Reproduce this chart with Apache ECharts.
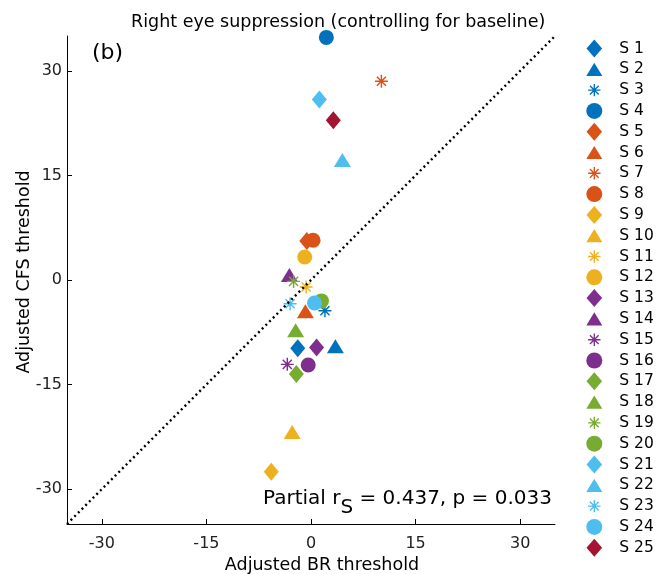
<!DOCTYPE html>
<html><head><meta charset="utf-8">
<script src="https://cdn.jsdelivr.net/npm/echarts@6/dist/echarts.min.js"></script>
<style>html,body{margin:0;padding:0;background:#fff}#c{width:667px;height:574px}</style>
</head><body><div id="c"></div>
<script>
// ---- data ----
const subjects = ['S 1','S 2','S 3','S 4','S 5','S 6','S 7','S 8','S 9','S 10','S 11','S 12','S 13','S 14','S 15','S 16','S 17','S 18','S 19','S 20','S 21','S 22','S 23','S 24','S 25'];
const brValues  = [-1.9, 3.5, 2.0, 2.2, -0.6, -0.8, 10.1, 0.3, -5.7, -2.7, -0.7, -0.9, 0.8, -3.1, -3.4, -0.4, -2.1, -2.2, -2.5, 1.5, 1.2, 4.5, -3.0, 0.5, 3.2];
const cfsValues = [-9.8, -9.5, -4.4, 34.8, 5.6, -4.5, 28.5, 5.7, -27.5, -21.8, -1.0, 3.3, -9.7, 0.7, -12.1, -12.2, -13.5, -7.2, -0.2, -3.0, 25.9, 17.2, -3.4, -3.3, 22.9];
const tickValues = [-30, -15, 0, 15, 30];
const identityLine = [[-35, -35], [35, 35]];
const axisRange = [-35, 35];
const statParts = ['Partial r', 'S', ' = 0.437, p = 0.033'];

// ---- styles ----
const palette = ['#0072BD', '#D95319', '#EDB120', '#7E2F8E', '#77AC30', '#4DBEEE', '#A2142F'];
const asteriskBody = 'M-1,-0.11 L1,-0.11 L1,0.11 L-1,0.11 Z ' +
  'M-0.11,-1 L0.11,-1 L0.11,1 L-0.11,1 Z ' +
  'M-0.778,-0.622 L-0.622,-0.778 L0.778,0.622 L0.622,0.778 Z ' +
  'M-0.622,0.778 L-0.778,0.622 L0.622,-0.778 L0.778,-0.622 Z';
const asterisk = 'path://' + asteriskBody;
// legend version: invisible zero-area specks pad the bounds so the icon is drawn smaller
const asteriskLegend = 'path://' + asteriskBody +
  ' M-0.001,-1.45 L0.001,-1.45 L0,-1.4495 Z M-0.001,1.45 L0.001,1.45 L0,1.4495 Z';
const shapes = ['diamond', 'triangle', asterisk, 'circle'];
const legendIcons = ['path://M0,-9 L7.8,0 L0,9 L-7.8,0 Z', 'path://M0,-7 L8.5,7 L-8.5,7 Z', asteriskLegend, 'circle'];
const sizes = [[15, 18], [17, 14], [13, 13], [15, 15]];
const FONT = 'DejaVu Sans';

const series = subjects.map((name, i) => ({
  type: 'scatter',
  name: name,
  data: [[brValues[i], cfsValues[i]]],
  symbol: shapes[i % 4],
  symbolSize: sizes[i % 4],
  itemStyle: { color: palette[Math.floor(i / 4)], opacity: 1 },
  emphasis: { disabled: true },
  z: 2
}));
series.push({
  type: 'line',
  name: 'identity',
  data: identityLine,
  symbol: 'none',
  lineStyle: { color: '#000', width: 2.4, type: [2, 3.2] },
  silent: true,
  z: 5
});

const axisCommon = {
  type: 'value', min: axisRange[0], max: axisRange[1],
  axisLine: { show: true, onZero: false, lineStyle: { color: '#000', width: 1 } },
  axisTick: { show: true, inside: true, length: 5, customValues: tickValues, lineStyle: { color: '#000' } },
  splitLine: { show: false },
  axisLabel: { customValues: tickValues, fontFamily: FONT, fontSize: 16, color: '#222' }
};

// measure text widths for the subscript annotation
const ctx = document.createElement('canvas').getContext('2d');
ctx.font = '20px "DejaVu Sans"';
const w0 = ctx.measureText(statParts[0]).width;
const w1 = ctx.measureText(statParts[1]).width;
const statX = 263, statY = 499;

const chart = echarts.init(document.getElementById('c'));
chart.setOption({
  animation: false,
  backgroundColor: '#fff',
  grid: { left: 67, top: 36, width: 488, height: 488, containLabel: false },
  xAxis: Object.assign({}, axisCommon, { axisLabel: Object.assign({}, axisCommon.axisLabel, { margin: 12 }) }),
  yAxis: Object.assign({}, axisCommon, { axisLabel: Object.assign({}, axisCommon.axisLabel, { margin: 5 }) }),
  legend: {
    orient: 'vertical', left: 586.3, top: 39.5, padding: 0,
    itemWidth: 16, itemHeight: 18, itemGap: 2.8,
    symbolKeepAspect: true,
    data: subjects.map((name, i) => ({ name: name, icon: legendIcons[i % 4] })),
    selectedMode: false,
    textStyle: { fontFamily: FONT, fontSize: 15.5, color: '#000', padding: [0, 0, 0, 12], lineHeight: 18 }
  },
  graphic: [
    { type: 'text', x: 131, y: 22.8, style: { text: 'Right eye suppression (controlling for baseline)', font: '17.5px "DejaVu Sans"', fill: '#000', align: 'left', verticalAlign: 'middle' } },
    { type: 'text', x: 92, y: 53.4, style: { text: '(b)', font: '22px "DejaVu Sans"', fill: '#000', align: 'left', verticalAlign: 'middle' } },
    { type: 'text', x: 322, y: 565, style: { text: 'Adjusted BR threshold', font: '17.5px "DejaVu Sans"', fill: '#000', align: 'center', verticalAlign: 'middle' } },
    { type: 'text', x: 24.5, y: 272, rotation: Math.PI / 2, style: { text: 'Adjusted CFS threshold', font: '17.5px "DejaVu Sans"', fill: '#000', align: 'center', verticalAlign: 'middle' } },
    { type: 'text', x: statX, y: statY, style: { text: statParts[0], font: '20px "DejaVu Sans"', fill: '#000', align: 'left', verticalAlign: 'middle' } },
    { type: 'text', x: statX + w0, y: statY + 9, style: { text: statParts[1], font: '20px "DejaVu Sans"', fill: '#000', align: 'left', verticalAlign: 'middle' } },
    { type: 'text', x: statX + w0 + w1, y: statY, style: { text: statParts[2], font: '20px "DejaVu Sans"', fill: '#000', align: 'left', verticalAlign: 'middle' } }
  ],
  series: series
});
</script>
</body></html>
